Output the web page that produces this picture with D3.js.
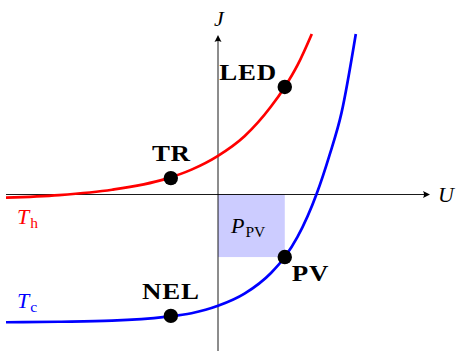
<!DOCTYPE html>
<html>
<head>
<meta charset="utf-8">
<script src="https://cdn.jsdelivr.net/npm/d3@7"></script>
<style>
  html, body { margin: 0; padding: 0; background: #fff; }
  svg { display: block; }
</style>
</head>
<body>
<script>
// curves (U, J in axis units)
var redU  = [-4, -3, -2, -1, -0.5, 0, 0.5, 1, 1.26, 1.5, 1.77];
var redJ  = [-0.07, -0.02, 0.08, 0.28, 0.46, 0.72, 1.09, 1.65, 2.02, 2.43, 3.02];
var blueU = [-4, -3, -2, -1, -0.5, 0, 0.5, 1, 1.26, 1.5, 1.86, 2.1, 2.33, 2.6];
var blueJ = [-2.42, -2.41, -2.39, -2.32, -2.25, -2.11, -1.88, -1.49, -1.19, -0.81, 0, 0.72, 1.53, 3.02];

// operating points
var pointNames = ["TR", "LED", "NEL", "PV"];
var pointU = [-0.89, 1.26, -0.89, 1.26];
var pointJ = [0.30, 2.02, -2.30, -1.19];

var width = 458, height = 351;

var svg = d3.select("body").append("svg")
    .attr("width", width)
    .attr("height", height);

var x = d3.scaleLinear().domain([-4, 4]).range([6, 430]);
var y = d3.scaleLinear().domain([-3, 3]).range([353, 35]);

// P_PV rectangle (origin to PV point)
svg.append("rect")
    .attr("x", x(0))
    .attr("y", y(0))
    .attr("width", x(pointU[3]) - x(0))
    .attr("height", y(pointJ[3]) - y(0))
    .attr("fill", "#ccccff");

// axes
function arrowHead(px, py, dir) {
    // dir: "right" or "up"
    var p;
    if (dir === "right") {
        p = "M" + px + "," + py + " L" + (px - 7) + "," + (py - 3.5) +
            " Q" + (px - 5) + "," + py + " " + (px - 7) + "," + (py + 3.5) + " Z";
    } else {
        p = "M" + px + "," + py + " L" + (px - 3.5) + "," + (py + 7) +
            " Q" + px + "," + (py + 5) + " " + (px + 3.5) + "," + (py + 7) + " Z";
    }
    svg.append("path").attr("d", p).attr("fill", "#000");
}
svg.append("line")
    .attr("x1", x(-4)).attr("x2", x(4) - 3)
    .attr("y1", y(0) + 0.5).attr("y2", y(0) + 0.5)
    .attr("stroke", "#000").attr("stroke-width", 0.9);
arrowHead(x(4), y(0) + 0.5, "right");

svg.append("line")
    .attr("x1", x(0)).attr("x2", x(0))
    .attr("y1", y(-3)).attr("y2", y(3) + 3)
    .attr("stroke", "#000").attr("stroke-width", 0.9);
arrowHead(x(0), y(3), "up");

// curves
var line = d3.line()
    .x(function(d) { return x(d[0]); })
    .y(function(d) { return y(d[1]); })
    .curve(d3.curveMonotoneX);

svg.append("path")
    .datum(d3.zip(redU, redJ))
    .attr("d", line)
    .attr("fill", "none")
    .attr("stroke", "#ff0000")
    .attr("stroke-width", 2.7);

svg.append("path")
    .datum(d3.zip(blueU, blueJ))
    .attr("d", line)
    .attr("fill", "none")
    .attr("stroke", "#0000ff")
    .attr("stroke-width", 2.7);

// dots
svg.selectAll("circle.pt")
    .data(pointNames)
    .enter()
    .append("circle")
    .attr("class", "pt")
    .attr("cx", function(_, i) { return x(pointU[i]); })
    .attr("cy", function(_, i) { return y(pointJ[i]); })
    .attr("r", 7.2)
    .attr("fill", "#000");

// bold point labels (stretched a bit, the original font is wider)
var labelPos = {
    TR:  { dx: 0.5, dy: -17.5, anchor: "middle" },
    LED: { dx: -8,  dy: -7,    anchor: "end" },
    NEL: { dx: 0,   dy: -17,   anchor: "middle" },
    PV:  { dx: 7,   dy: 23.5,  anchor: "start" }
};
svg.selectAll("text.pt")
    .data(pointNames)
    .enter()
    .append("text")
    .attr("class", "pt")
    .attr("transform", function(d, i) {
        return "translate(" + (x(pointU[i]) + labelPos[d].dx) + "," +
            (y(pointJ[i]) + labelPos[d].dy) + ") scale(1.17,1)";
    })
    .attr("text-anchor", function(d) { return labelPos[d].anchor; })
    .attr("font-family", "'Liberation Serif', 'DejaVu Serif', serif")
    .attr("font-weight", "bold")
    .attr("font-size", 23)
    .attr("letter-spacing", 0.6)
    .attr("fill", "#000")
    .text(function(d) { return d; });

// math labels
function mathLabel(px, py, main, sub, color, anchor) {
    var t = svg.append("text")
        .attr("x", px).attr("y", py)
        .attr("text-anchor", anchor || "start")
        .attr("font-family", "'Liberation Serif', 'DejaVu Serif', serif")
        .attr("font-size", 22)
        .attr("fill", color);
    t.append("tspan").attr("font-style", "italic").text(main);
    if (sub) {
        t.append("tspan")
            .attr("font-size", 15.5)
            .attr("dy", 3.5)
            .attr("dx", 1)
            .text(sub);
    }
    return t;
}
mathLabel(x(0) + 1, 26, "J", null, "#000", "middle");
mathLabel(438, 201.5, "U", null, "#000", "start");
mathLabel(17, 224, "T", "h", "#ff0000", "start");
mathLabel(17, 308, "T", "c", "#0000ff", "start");
mathLabel(231, 233, "P", "PV", "#000", "start");
</script>
</body>
</html>
